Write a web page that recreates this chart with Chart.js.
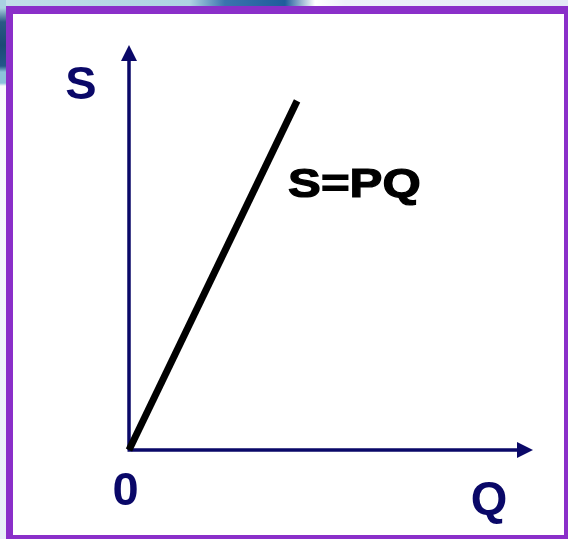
<!DOCTYPE html>
<html>
<head>
<meta charset="utf-8">
<script src="https://cdn.jsdelivr.net/npm/chart.js@4.4.1/dist/chart.umd.min.js"></script>
<style>
  html, body { margin: 0; padding: 0; }
  body {
    width: 568px; height: 539px; position: relative; overflow: hidden;
    background: linear-gradient(90deg, #c2dfe9 0, #aed3e2 190px, #3a74ae 225px, #1f5c9c 285px, #ffffff 315px, #eef1fa 345px, #e3e9f6 568px);
  }
  #leftStrip {
    position: absolute; left: 0; top: 0; width: 6px; height: 539px;
    background: linear-gradient(180deg, #a9d1e1 0, #a9d1e1 8px, #2a5a86 22px, #1b4a76 45px, #24578a 66px, #8cc3da 72px, #8cc3da 83px, #fafbfe 86px, #f3f6fc 300px, #e8eef8 539px);
  }
  #frame {
    position: absolute; left: 6px; top: 6px; width: 562px; height: 533px;
    box-sizing: border-box; background: #ffffff;
    border-style: solid; border-color: #8a2fc9;
    border-width: 8px 4px 4px 7px;
  }
  #chart { position: absolute; left: 0; top: 0; }
</style>
</head>
<body>
<div id="leftStrip"></div>
<div id="frame"></div>
<canvas id="chart" width="568" height="539"></canvas>
<script>
// S = P*Q : sales grow linearly with quantity
const qValues = [0, 4.16];
const sValues = [0, 8.62];
const axisLabels = { y: 'S', x: 'Q', origin: '0', line: 'S=PQ' };

const NAVY = '#0a0868';
const FONT = '"Liberation Sans", Arial, sans-serif';

// draws the two axes with arrow heads, under the line
const axesPlugin = {
    id: 'axes',
    beforeDatasetsDraw(chart) {
        const ctx = chart.ctx;
        const x0 = chart.scales.x.getPixelForValue(0);
        const y0 = chart.scales.y.getPixelForValue(0);
        const top = chart.scales.y.getPixelForValue(chart.scales.y.max);
        const right = chart.scales.x.getPixelForValue(chart.scales.x.max);
        ctx.save();
        ctx.strokeStyle = NAVY;
        ctx.fillStyle = NAVY;
        ctx.lineWidth = 3.5;
        ctx.beginPath();
        ctx.moveTo(x0, y0);
        ctx.lineTo(x0, top + 14);
        ctx.moveTo(x0 - 1.5, y0);
        ctx.lineTo(right - 14, y0);
        ctx.stroke();
        // arrow heads
        ctx.beginPath();
        ctx.moveTo(x0, top);
        ctx.lineTo(x0 - 8, top + 16);
        ctx.lineTo(x0 + 8, top + 16);
        ctx.closePath();
        ctx.fill();
        ctx.beginPath();
        ctx.moveTo(right, y0);
        ctx.lineTo(right - 16, y0 - 8);
        ctx.lineTo(right - 16, y0 + 8);
        ctx.closePath();
        ctx.fill();
        ctx.restore();
    },
    afterDatasetsDraw(chart) {
        const ctx = chart.ctx;
        const x0 = chart.scales.x.getPixelForValue(0);
        const y0 = chart.scales.y.getPixelForValue(0);
        const top = chart.scales.y.getPixelForValue(chart.scales.y.max);
        const right = chart.scales.x.getPixelForValue(chart.scales.x.max);
        ctx.save();
        ctx.fillStyle = NAVY;
        ctx.textAlign = 'center';
        ctx.textBaseline = 'alphabetic';
        ctx.font = 'bold 47px ' + FONT;
        ctx.fillText(axisLabels.y, x0 - 48, top + 54);
        ctx.fillText(axisLabels.origin, x0 - 3.5, y0 + 55);
        ctx.fillText(axisLabels.x, right - 44, y0 + 64);

        // label beside the line, wide heavy letters like the slide
        const lx = chart.scales.x.getPixelForValue(qValues[1]);
        const ly = chart.scales.y.getPixelForValue(sValues[1]);
        ctx.fillStyle = '#000000';
        ctx.strokeStyle = '#000000';
        ctx.lineWidth = 1.2;
        ctx.textAlign = 'left';
        ctx.font = 'bold 41px ' + FONT;
        ctx.translate(lx - 9, ly + 96);
        ctx.scale(1.2, 1);
        ctx.fillText(axisLabels.line, 0, 0);
        ctx.strokeText(axisLabels.line, 0, 0);
        ctx.restore();
    }
};

new Chart(document.getElementById('chart'), {
    type: 'line',
    data: {
        datasets: [{
            data: qValues.map((q, i) => ({ x: q, y: sValues[i] })),
            borderColor: '#000000',
            borderWidth: 7,
            borderCapStyle: 'butt',
            pointRadius: 0,
            tension: 0,
            clip: false
        }]
    },
    options: {
        responsive: false,
        animation: false,
        devicePixelRatio: 1,
        layout: { padding: { left: 129, right: 35, top: 45, bottom: 89 } },
        scales: {
            x: { type: 'linear', min: 0, max: 10, display: false },
            y: { type: 'linear', min: 0, max: 10, display: false }
        },
        plugins: {
            legend: { display: false },
            tooltip: { enabled: false }
        }
    },
    plugins: [axesPlugin]
});
</script>
</body>
</html>
